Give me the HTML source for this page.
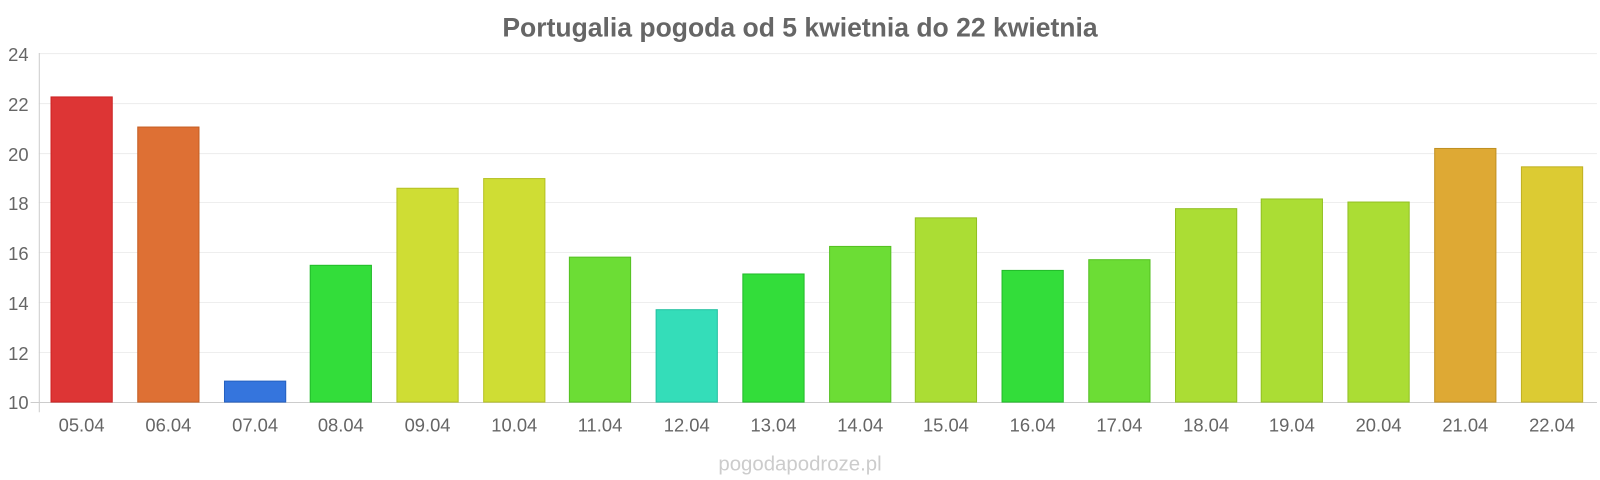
<!DOCTYPE html>
<html><head><meta charset="utf-8"><style>
body{margin:0;background:#fff;}
svg{display:block;}
svg text{font-family:"Liberation Sans",sans-serif;}
</style></head><body>
<svg width="1600" height="480" viewBox="0 0 1568 470.4" preserveAspectRatio="none" xmlns="http://www.w3.org/2000/svg">
<rect width="1568" height="470.4" fill="#fff"/>
<text x="784" y="36" text-anchor="middle" font-size="26" font-weight="bold" fill="#666">Portugalia pogoda od 5 kwietnia do 22 kwietnia</text>
<g stroke="#eee" stroke-width="1">
<line x1="38" x2="1565" y1="52.5" y2="52.5"/>
<line x1="38" x2="1565" y1="101.5" y2="101.5"/>
<line x1="38" x2="1565" y1="150.5" y2="150.5"/>
<line x1="38" x2="1565" y1="198.5" y2="198.5"/>
<line x1="38" x2="1565" y1="247.5" y2="247.5"/>
<line x1="38" x2="1565" y1="296.5" y2="296.5"/>
<line x1="38" x2="1565" y1="345.5" y2="345.5"/>
</g>
<line x1="38.5" x2="38.5" y1="52" y2="404" stroke="#ccc"/>
<line x1="30" x2="1565" y1="394.5" y2="394.5" stroke="#ccc"/>
<g font-size="18" fill="#666" text-anchor="end">
<text x="28" y="60">24</text><text x="28" y="109">22</text><text x="28" y="158">20</text>
<text x="28" y="206">18</text><text x="28" y="255">16</text><text x="28" y="304">14</text>
<text x="28" y="353">12</text><text x="28" y="401">10</text>
</g>
<g stroke-width="1">
<rect x="50" y="95" width="60" height="299" fill="#dd3535" stroke="#c22"/>
<rect x="135" y="124.5" width="60" height="269.5" fill="#de7034" stroke="#c55e22"/>
<rect x="220" y="373.5" width="60" height="20.5" fill="#3575dd" stroke="#2560c0"/>
<rect x="304" y="260" width="60" height="134" fill="#33dd3a" stroke="#22bb2a"/>
<rect x="389" y="184.5" width="60" height="209.5" fill="#cfdd34" stroke="#b5c022"/>
<rect x="474" y="175" width="60" height="219" fill="#cfdd34" stroke="#b5c022"/>
<rect x="558" y="252" width="60" height="142" fill="#6cdd35" stroke="#55c022"/>
<rect x="643" y="303.5" width="60" height="90.5" fill="#34ddb9" stroke="#22c0a0"/>
<rect x="728" y="268.5" width="60" height="125.5" fill="#33dd3a" stroke="#22bb2a"/>
<rect x="813" y="241.5" width="60" height="152.5" fill="#6cdd35" stroke="#55c022"/>
<rect x="897" y="213.5" width="60" height="180.5" fill="#abdd34" stroke="#92c022"/>
<rect x="982" y="265" width="60" height="129" fill="#33dd3a" stroke="#22bb2a"/>
<rect x="1067" y="254.5" width="60" height="139.5" fill="#6cdd35" stroke="#55c022"/>
<rect x="1152" y="204.5" width="60" height="189.5" fill="#abdd34" stroke="#92c022"/>
<rect x="1236" y="195" width="60" height="199" fill="#abdd34" stroke="#92c022"/>
<rect x="1321" y="198" width="60" height="196" fill="#abdd34" stroke="#92c022"/>
<rect x="1406" y="145.5" width="60" height="248.5" fill="#dea934" stroke="#c09022"/>
<rect x="1491" y="163.5" width="60" height="230.5" fill="#dccb33" stroke="#c0b022"/>
</g>
<g font-size="18" fill="#666" text-anchor="middle">
<text x="80" y="423">05.04</text><text x="165" y="423">06.04</text><text x="250" y="423">07.04</text>
<text x="334" y="423">08.04</text><text x="419" y="423">09.04</text><text x="504" y="423">10.04</text>
<text x="588" y="423">11.04</text><text x="673" y="423">12.04</text><text x="758" y="423">13.04</text>
<text x="843" y="423">14.04</text><text x="927" y="423">15.04</text><text x="1012" y="423">16.04</text>
<text x="1097" y="423">17.04</text><text x="1182" y="423">18.04</text><text x="1266" y="423">19.04</text>
<text x="1351" y="423">20.04</text><text x="1436" y="423">21.04</text><text x="1521" y="423">22.04</text>
</g>
<text x="784" y="461" text-anchor="middle" font-size="20" fill="#ccc">pogodapodroze.pl</text>
</svg>
</body></html>
